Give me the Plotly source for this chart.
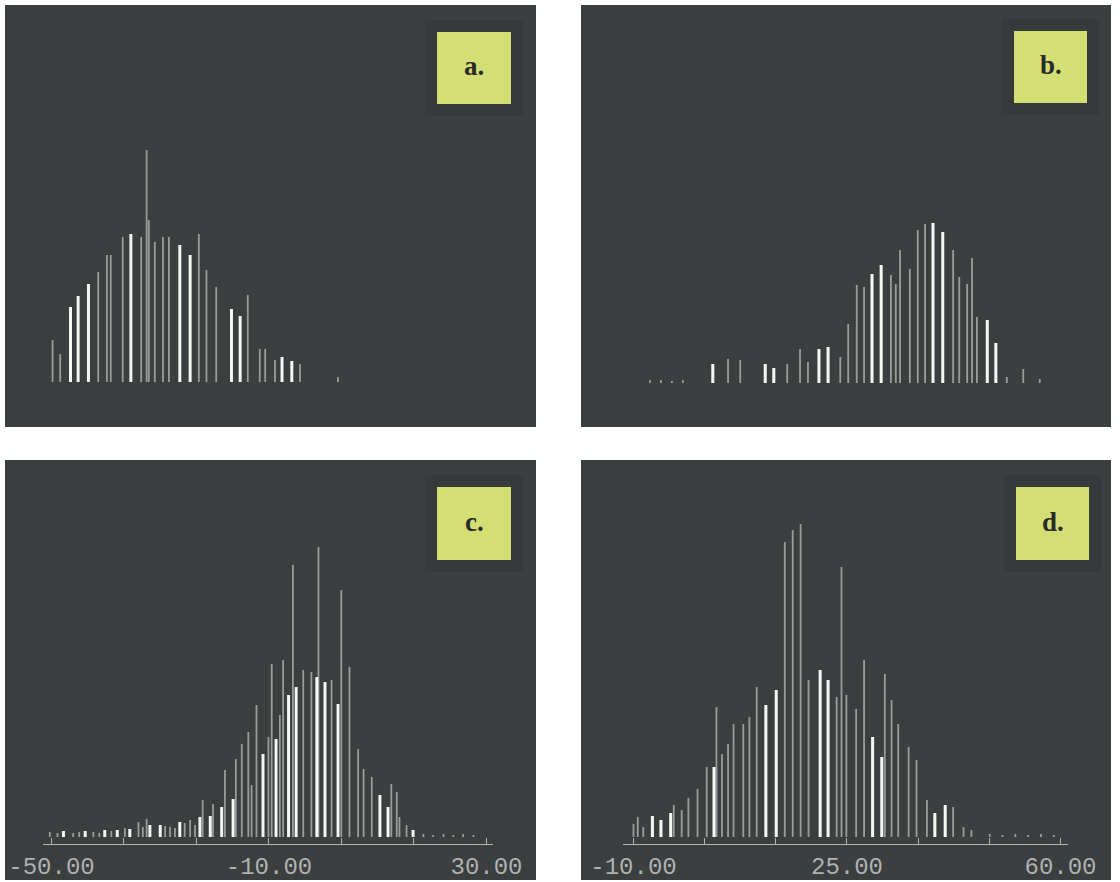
'''
Four scanned histogram panels (a.-d.) redrawn with plotly
'''

import plotly.graph_objects as go

W, H = 1120, 882

# ---- data: bar positions (x) and counts (h), bright and faint lines ----
a_bright_x = [-46.5, -45.1, -43.2, -35.4, -26.4, -24.5, -16.9, -15.3, -7.6, -5.8]
a_bright_h = [75, 86, 98, 148, 137, 127, 73, 66, 25, 21]
a_faint_x = [-49.8, -48.4, -41.4, -39.8, -39.1, -36.9, -33.5, -32.5, -32.1, -31.0, -29.5,
             -28.4, -22.9, -21.5, -19.7, -13.9, -11.7, -10.7, -8.9, -4.3, 2.7]
a_faint_h = [42, 28, 110, 127, 127, 145, 145, 232, 162, 140, 145,
             145, 148, 112, 95, 87, 33, 33, 22, 18, 5]

b_bright_x = [3.0, 11.6, 13.0, 20.4, 21.9, 29.1, 30.6, 39.1, 40.7, 48.0, 49.4]
b_bright_h = [19, 19, 15, 34, 36, 109, 118, 160, 151, 63, 40]
b_faint_x = [-7.3, -5.5, -3.7, -1.9, 5.5, 7.5, 15.2, 17.3, 18.6, 23.9, 25.2, 26.6, 27.8,
             32.2, 33.0, 33.7, 35.3, 36.6, 37.8, 42.4, 43.4, 44.7, 45.5, 46.3, 51.2, 53.9, 56.6]
b_faint_h = [3, 3, 2, 3, 24, 23, 19, 34, 21, 26, 59, 98, 96,
             108, 99, 133, 114, 153, 159, 133, 106, 99, 125, 66, 6, 14, 4]

c_bright_x = [-47.8, -43.8, -40.2, -37.9, -35.6, -31.9, -30.0, -26.4, -22.7, -20.8, -18.7,
              -16.6, -11.1, -8.7, -6.4, -5.0, -1.2, 0.3, 2.7, 10.4, 11.9, 16.5]
c_bright_h = [6, 6, 7, 7, 8, 12, 12, 15, 20, 21, 30,
              38, 83, 98, 142, 150, 160, 155, 133, 42, 30, 7]
c_faint_x = [-50.3, -48.9, -46.0, -44.9, -42.3, -41.2, -39.0, -36.5, -34.0, -33.2, -32.5,
             -29.1, -28.2, -27.3, -25.5, -24.5, -23.6, -22.2, -20.3, -18.1, -16.1, -15.0,
             -13.8, -13.2, -12.3, -10.1, -9.5, -8.0, -7.4, -5.6, -3.7, -2.2, -0.9, 1.5,
             3.3, 4.8, 6.4, 7.4, 8.9, 12.5, 13.5, 14.0, 15.3, 18.4, 20.2, 22.1, 23.9, 25.7, 27.6]
c_faint_h = [5, 4, 4, 5, 5, 4, 6, 9, 15, 10, 18,
             11, 10, 9, 14, 17, 12, 37, 33, 67, 78, 93,
             105, 52, 132, 100, 173, 122, 177, 272, 167, 165, 290, 157,
             247, 170, 88, 68, 60, 53, 45, 20, 12, 3, 2, 3, 2, 3, 2]

d_bright_x = [-6.9, -5.5, -3.9, 3.2, 11.7, 13.4, 20.6, 21.9, 29.2, 30.7, 39.4, 41.1]
d_bright_h = [21, 17, 24, 70, 132, 147, 167, 157, 100, 80, 24, 32]
d_faint_x = [-10.0, -9.3, -8.4, -3.4, -2.1, -1.0, 0.5, 2.0, 3.6, 4.5, 5.5, 6.4, 8.0,
             9.0, 10.2, 14.8, 16.1, 17.4, 18.7, 23.3, 24.1, 24.9, 26.5, 27.8, 31.2, 32.3,
             33.4, 35.1, 36.4, 38.1, 42.4, 44.1, 45.4, 48.4, 50.5, 52.6, 54.7, 56.8, 58.9]
d_faint_h = [13, 20, 10, 32, 27, 39, 48, 70, 130, 83, 93, 113, 113,
             120, 150, 295, 307, 313, 157, 140, 270, 142, 128, 177, 163, 137,
             113, 90, 77, 37, 30, 10, 7, 3, 2, 3, 2, 3, 2]

c_ticks = [-50, -36.67, -23.33, -10, 3.33, 16.67, 30]
c_ticktext = ['-50.00', '', '', '-10.00', '', '', '30.00']
d_ticks = [-10, 1.67, 13.33, 25, 36.67, 48.33, 60]
d_ticktext = ['-10.00', '', '', '25.00', '', '', '60.00']

panel_labels = ['a.', 'b.', 'c.', 'd.']

# ---- styling ----
PANEL_BG = '#3b3f3f'
HALO = '#363a3a'
BRIGHT = 'rgba(252, 252, 248, 0.97)'
FAINT = 'rgba(210, 214, 212, 0.62)'
AXIS = 'rgba(215, 218, 215, 0.75)'
LABEL_BOX = '#d3df74'


def px_x(px):
    return px / W


def px_y(py):
    return 1 - py / H


# pixel geometry of each panel: dark frame, label box, axis extent
panel_frames = [(5, 5, 536, 427), (581, 5, 1111, 427), (5, 460, 536, 880), (581, 460, 1111, 880)]
label_frames = [(437, 32, 511, 104), (1014, 31, 1087, 103), (437, 487, 511, 560), (1016, 487, 1089, 560)]
axis_px_x = [(43, 493), (623, 1068), (43, 493), (623, 1068)]
axis_px_y = [(395, 5), (395, 5), (844, 460), (844, 460)]
x_ranges = [[-51.56, 31.2], [-11.72, 61.23], [-51.56, 31.2], [-11.72, 61.23]]
y_ranges = [[-13, 377], [-12, 378], [-7, 377], [-7, 377]]
bar_widths = [(0.55, 0.33), (0.5, 0.3), (0.55, 0.33), (0.5, 0.3)]

series = [
    (a_bright_x, a_bright_h, a_faint_x, a_faint_h),
    (b_bright_x, b_bright_h, b_faint_x, b_faint_h),
    (c_bright_x, c_bright_h, c_faint_x, c_faint_h),
    (d_bright_x, d_bright_h, d_faint_x, d_faint_h),
]
ticks = [None, None, (c_ticks, c_ticktext), (d_ticks, d_ticktext)]

fig = go.Figure()
layout = {}
shapes = []
annotations = []

for i, (bx, bh, fx, fh) in enumerate(series):
    n = '' if i == 0 else str(i + 1)
    xa, ya = 'x' + n, 'y' + n
    wb, wf = bar_widths[i]

    fig.add_bar(x=fx, y=fh, width=wf, marker_color=FAINT, marker_line_width=0,
                xaxis=xa, yaxis=ya, name=panel_labels[i] + ' faint')
    fig.add_bar(x=bx, y=bh, width=wb, marker_color=BRIGHT, marker_line_width=0,
                xaxis=xa, yaxis=ya, name=panel_labels[i])

    x0, x1 = axis_px_x[i]
    yb, yt = axis_px_y[i]
    xaxis = dict(domain=[px_x(x0), px_x(x1)], range=x_ranges[i], anchor=ya,
                 showgrid=False, zeroline=False, fixedrange=True, automargin=False)
    if ticks[i] is None:
        xaxis.update(visible=False)
    else:
        xaxis.update(showline=True, linecolor=AXIS, linewidth=1,
                     ticks='inside', ticklen=6, tickwidth=1, tickcolor=AXIS,
                     tickvals=ticks[i][0], ticktext=ticks[i][1],
                     tickfont=dict(family='Liberation Mono', size=24, color='rgba(215, 215, 215, 0.75)'))
    layout['xaxis' + n] = xaxis
    layout['yaxis' + n] = dict(domain=[px_y(yb), px_y(yt)], range=y_ranges[i], anchor=xa,
                               visible=False, fixedrange=True, automargin=False)

    l, t, r, b = panel_frames[i]
    shapes.append(dict(type='rect', xref='paper', yref='paper', layer='below',
                       x0=px_x(l), x1=px_x(r), y0=px_y(b), y1=px_y(t),
                       fillcolor=PANEL_BG, line_width=0))

    l, t, r, b = label_frames[i]
    shapes.append(dict(type='rect', xref='paper', yref='paper', layer='below',
                       x0=px_x(l - 12), x1=px_x(r + 12), y0=px_y(b + 12), y1=px_y(t - 12),
                       fillcolor=HALO, line_width=0))
    shapes.append(dict(type='rect', xref='paper', yref='paper', layer='above',
                       x0=px_x(l), x1=px_x(r), y0=px_y(b), y1=px_y(t),
                       fillcolor=LABEL_BOX, line_width=0))
    annotations.append(dict(xref='paper', yref='paper', x=px_x((l + r) / 2), y=px_y((t + b) / 2 - 2),
                            xanchor='center', yanchor='middle',
                            text='<b>' + panel_labels[i] + '</b>', showarrow=False,
                            font=dict(family='Liberation Serif', size=27, color='#2a2a28')))

fig.update_layout(**layout)
fig.update_layout(width=W, height=H, margin=dict(l=0, r=0, t=0, b=0, autoexpand=False),
                  paper_bgcolor='white', plot_bgcolor='rgba(0,0,0,0)',
                  barmode='overlay', showlegend=False,
                  shapes=shapes, annotations=annotations)

# the default page keeps an 8px body margin; drop it so the figure sits at 0,0
fig.write_html('out.html', config={'displayModeBar': False},
               post_script="document.body.style.margin = '0px';")
